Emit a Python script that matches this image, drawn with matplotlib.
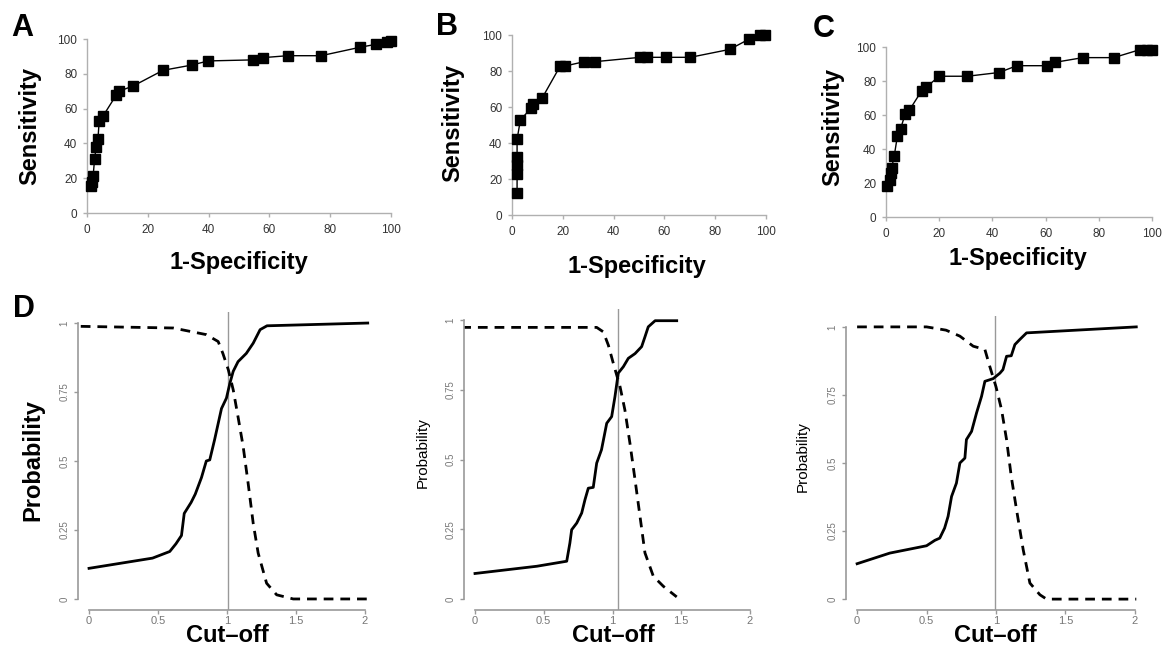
import matplotlib
matplotlib.use("Agg")
import matplotlib.pyplot as plt

plt.rcParams['font.family'] = ['Liberation Sans', 'DejaVu Sans']

W, H = 1169, 648

# ROC curves (1-specificity, sensitivity), in percent
roc_a_x = [1.4, 1.8, 2.0, 2.5, 3.0, 3.6, 4.0, 5.3, 9.7, 10.5, 15.2, 25.0, 34.4, 39.9, 54.7, 58.0, 66.0, 77.0, 89.7, 95.2, 98.7, 100.0]
roc_a_y = [15.3, 18.0, 21.0, 31.0, 38.0, 42.5, 52.6, 55.8, 68.0, 70.0, 73.0, 82.0, 85.0, 87.4, 88.0, 89.3, 90.4, 90.4, 95.2, 97.0, 98.5, 99.0]

roc_b_x = [2.0, 2.0, 2.0, 2.0, 2.0, 3.3, 7.5, 8.3, 11.8, 19.0, 21.0, 28.5, 32.8, 50.5, 53.0, 60.8, 70.2, 85.7, 93.2, 97.8, 99.7]
roc_b_y = [12.4, 23.0, 27.8, 32.4, 42.0, 52.8, 59.3, 61.7, 64.8, 82.8, 82.8, 85.2, 85.2, 87.6, 87.6, 87.6, 87.6, 92.0, 97.6, 100.0, 100.0]

roc_c_x = [0.5, 1.5, 1.8, 2.1, 3.1, 4.3, 5.5, 7.2, 8.8, 13.4, 15.0, 20.0, 30.6, 42.5, 49.2, 60.5, 63.6, 74.0, 85.6, 95.4, 98.0, 100.0]
roc_c_y = [18.0, 21.9, 25.8, 28.7, 36.0, 47.7, 52.0, 60.5, 62.9, 74.2, 76.2, 82.8, 82.8, 85.0, 89.0, 89.0, 91.0, 93.75, 93.75, 98.4, 98.4, 98.4]

# probability vs cut-off, panel D (three plots)
d1_sens_x = [0.0, 0.46, 0.585, 0.63, 0.67, 0.69, 0.74, 0.77, 0.815, 0.85, 0.875, 0.91, 0.96, 0.996, 1.02, 1.045, 1.08, 1.14, 1.19, 1.24, 1.29, 2.02]
d1_sens_y = [0.111, 0.148, 0.172, 0.20, 0.23, 0.31, 0.35, 0.38, 0.44, 0.50, 0.504, 0.577, 0.69, 0.728, 0.78, 0.825, 0.86, 0.89, 0.927, 0.976, 0.99, 1.0]
d1_spec_x = [-0.06, 0.61, 0.73, 0.85, 0.936, 0.97, 1.01, 1.045, 1.08, 1.117, 1.153, 1.19, 1.226, 1.287, 1.36, 1.48, 2.02]
d1_spec_y = [0.988, 0.982, 0.97, 0.958, 0.933, 0.89, 0.83, 0.758, 0.66, 0.553, 0.42, 0.274, 0.166, 0.057, 0.015, 0.0, 0.0]
d1_cut = 1.01

d2_sens_x = [0.0, 0.45, 0.667, 0.69, 0.703, 0.74, 0.776, 0.8, 0.824, 0.86, 0.885, 0.92, 0.958, 0.994, 1.018, 1.042, 1.079, 1.115, 1.164, 1.212, 1.236, 1.26, 1.31, 1.467]
d2_sens_y = [0.091, 0.117, 0.135, 0.20, 0.248, 0.272, 0.308, 0.356, 0.397, 0.40, 0.487, 0.535, 0.63, 0.654, 0.726, 0.81, 0.833, 0.863, 0.88, 0.905, 0.94, 0.976, 0.998, 0.998]
d2_spec_x = [-0.1, 0.885, 0.933, 0.97, 1.006, 1.055, 1.09, 1.127, 1.164, 1.2, 1.236, 1.297, 1.37, 1.467]
d2_spec_y = [0.974, 0.974, 0.958, 0.91, 0.845, 0.761, 0.678, 0.558, 0.427, 0.296, 0.165, 0.081, 0.045, 0.007]
d2_cut = 1.04

d3_sens_x = [0.0, 0.235, 0.5, 0.56, 0.595, 0.63, 0.655, 0.68, 0.715, 0.74, 0.776, 0.787, 0.824, 0.86, 0.896, 0.92, 0.98, 1.028, 1.05, 1.076, 1.11, 1.136, 1.17, 1.22, 2.01]
d3_sens_y = [0.13, 0.169, 0.196, 0.216, 0.224, 0.261, 0.304, 0.377, 0.426, 0.5, 0.518, 0.586, 0.616, 0.684, 0.745, 0.80, 0.81, 0.83, 0.843, 0.892, 0.894, 0.935, 0.953, 0.978, 1.0]
d3_spec_x = [0.0, 0.5, 0.64, 0.74, 0.836, 0.92, 0.955, 1.0, 1.04, 1.076, 1.11, 1.148, 1.196, 1.244, 1.316, 1.364, 2.01]
d3_spec_y = [1.0, 1.0, 0.988, 0.966, 0.929, 0.917, 0.855, 0.78, 0.696, 0.586, 0.45, 0.328, 0.181, 0.059, 0.016, 0.0, 0.0]
d3_cut = 0.99

roc_ticks = [0, 20, 40, 60, 80, 100]
cut_ticks = [0, 0.5, 1, 1.5, 2]
cut_labels = ['0', '0.5', '1', '1.5', '2']
prob_ticks = [0, 0.25, 0.5, 0.75, 1]
prob_labels = ['0', '0.25', '0.5', '0.75', '1']


def px_axes(fig, left, top, right, bottom):
    """Add axes from pixel box (top-left origin)"""
    return fig.add_axes([left / W, 1 - bottom / H, (right - left) / W, (bottom - top) / H])


def fig_text(fig, x, y, s, va='center', **kw):
    fig.text(x / W, 1 - y / H, s, ha='center', va=va, **kw)


def roc_panel(ax, xs, ys):
    ax.plot(xs, ys, color='black', lw=1, marker='s', markersize=7.5,
            markerfacecolor='black', markeredgecolor='black', clip_on=False, zorder=3)
    ax.set_xlim(0, 100)
    ax.set_ylim(0, 100)
    ax.set_xticks(roc_ticks)
    ax.set_yticks(roc_ticks)
    for side in ['top', 'right']:
        ax.spines[side].set_visible(False)
    for side in ['left', 'bottom']:
        ax.spines[side].set_color('#b0b0b0')
        ax.spines[side].set_linewidth(1)
    ax.tick_params(axis='both', colors='#b0b0b0', labelcolor='#333333', labelsize=8.5,
                   length=3, width=1, direction='out')
    ax.tick_params(axis='x', pad=5)
    ax.tick_params(axis='y', pad=4)


def cut_panel(ax, sx, sy, px, py, cut):
    ax.axvline(cut, color='#999999', lw=1, zorder=1)
    ax.plot(px, py, color='black', lw=2, linestyle=(0, (3.5, 2.5)), zorder=2)
    ax.plot(sx, sy, color='black', lw=2, zorder=3)
    ax.set_xlim(-0.08, 2.08)
    ax.set_ylim(-0.04, 1.04)
    ax.set_xticks(cut_ticks)
    ax.set_xticklabels(cut_labels)
    ax.set_yticks(prob_ticks)
    ax.set_yticklabels(prob_labels, rotation=90, va='center')
    for side in ['top', 'right']:
        ax.spines[side].set_visible(False)
    ax.spines['left'].set_bounds(0, 1)
    ax.spines['bottom'].set_bounds(0, 2)
    for side in ['left', 'bottom']:
        ax.spines[side].set_color('#999999')
        ax.spines[side].set_linewidth(1.2)
    ax.tick_params(axis='both', colors='#999999', labelcolor='#777777',
                   length=3, width=1, direction='out')
    ax.tick_params(axis='x', labelsize=8, pad=1)
    ax.tick_params(axis='y', labelsize=7, pad=3)


fig = plt.figure(figsize=(W / 100, H / 100), dpi=100)

# top row: ROC curves
ax_a = px_axes(fig, 87, 39, 391, 213)
roc_panel(ax_a, roc_a_x, roc_a_y)
ax_b = px_axes(fig, 512, 35, 766, 215)
roc_panel(ax_b, roc_b_x, roc_b_y)
ax_c = px_axes(fig, 886, 47, 1152, 217)
roc_panel(ax_c, roc_c_x, roc_c_y)

big = dict(fontsize=17, fontweight='bold')
fig_text(fig, 30, 126, 'Sensitivity', rotation=90, **big)
fig_text(fig, 239, 263, '1-Specificity', **big)
fig_text(fig, 453, 123, 'Sensitivity', rotation=90, **big)
fig_text(fig, 637, 267, '1-Specificity', **big)
fig_text(fig, 833, 127, 'Sensitivity', rotation=90, **big)
fig_text(fig, 1018, 258, '1-Specificity', **big)

# bottom row: probability vs cut-off
ax_d1 = px_axes(fig, 78, 312, 376, 610)
cut_panel(ax_d1, d1_sens_x, d1_sens_y, d1_spec_x, d1_spec_y, d1_cut)
ax_d2 = px_axes(fig, 464, 309, 761, 610)
cut_panel(ax_d2, d2_sens_x, d2_sens_y, d2_spec_x, d2_spec_y, d2_cut)
ax_d3 = px_axes(fig, 846, 316, 1146, 610)
cut_panel(ax_d3, d3_sens_x, d3_sens_y, d3_spec_x, d3_spec_y, d3_cut)

fig_text(fig, 33, 460, 'Probability', rotation=90, **big)
fig_text(fig, 423, 453, 'Probability', rotation=90, fontsize=11)
fig_text(fig, 803, 457, 'Probability', rotation=90, fontsize=11)
fig_text(fig, 227, 642, 'Cut\u2013off', va='baseline', **big)
fig_text(fig, 613, 642, 'Cut\u2013off', va='baseline', **big)
fig_text(fig, 995, 642, 'Cut\u2013off', va='baseline', **big)

# panel letters
letter = dict(fontsize=22, fontweight='bold')
fig_text(fig, 22, 28, 'A', **letter)
fig_text(fig, 447, 27, 'B', **letter)
fig_text(fig, 824, 29, 'C', **letter)
fig_text(fig, 24, 309, 'D', **letter)

fig.savefig('out.png', dpi=100, facecolor='white')
